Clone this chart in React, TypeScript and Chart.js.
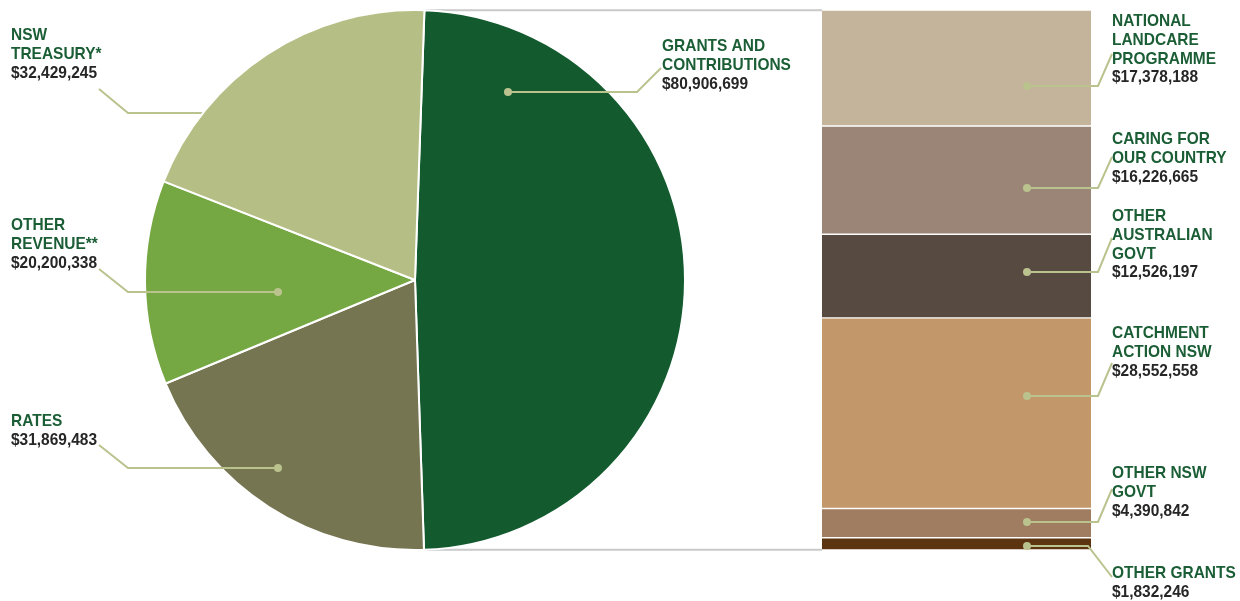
import React, { useEffect, useRef } from "react";
import { Chart, registerables } from "chart.js";

Chart.register(...registerables);

// ---- Data ----
const pieCategories = ["GRANTS AND CONTRIBUTIONS", "RATES", "OTHER REVENUE**", "NSW TREASURY*"];
const pieValues = [80906699, 31869483, 20200338, 32429245];
const pieColors = ["#135B2F", "#757551", "#75A742", "#B5BF85"];
const pieLabelLines = [["GRANTS AND", "CONTRIBUTIONS"], ["RATES"], ["OTHER", "REVENUE**"], ["NSW", "TREASURY*"]];

const barCategories = [
  "NATIONAL LANDCARE PROGRAMME",
  "CARING FOR OUR COUNTRY",
  "OTHER AUSTRALIAN GOVT",
  "CATCHMENT ACTION NSW",
  "OTHER NSW GOVT",
  "OTHER GRANTS",
];
const barValues = [17378188, 16226665, 12526197, 28552558, 4390842, 1832246];
const barColors = ["#C4B49B", "#9B8576", "#574A41", "#C2986B", "#A07D60", "#5C3410"];
const barLabelLines = [
  ["NATIONAL", "LANDCARE", "PROGRAMME"],
  ["CARING FOR", "OUR COUNTRY"],
  ["OTHER", "AUSTRALIAN", "GOVT"],
  ["CATCHMENT", "ACTION NSW"],
  ["OTHER NSW", "GOVT"],
  ["OTHER GRANTS"],
];

// ---- Annotation layout (label placement only) ----
type Lay = { tx: number; y0: number; pts: number[][]; dot: boolean; under?: boolean };
const pieLayout: Lay[] = [
  { tx: 662, y0: 51, pts: [[508, 92], [637, 92], [661, 68]], dot: true },
  { tx: 11, y0: 426, pts: [[278, 468], [128, 468], [99, 445]], dot: true },
  { tx: 11, y0: 230, pts: [[278, 292], [128, 292], [99, 269]], dot: true },
  { tx: 11, y0: 40, pts: [[260, 113], [128, 113], [99, 89]], dot: false, under: true },
];
const barLayout: Lay[] = [
  { tx: 1112, y0: 26, pts: [[1027, 86], [1098, 86], [1112, 54]], dot: true },
  { tx: 1112, y0: 144, pts: [[1027, 188], [1098, 188], [1112, 157]], dot: true },
  { tx: 1112, y0: 221, pts: [[1027, 272], [1098, 272], [1112, 238]], dot: true },
  { tx: 1112, y0: 338, pts: [[1027, 396], [1098, 396], [1112, 363]], dot: true },
  { tx: 1112, y0: 478, pts: [[1027, 522], [1098, 522], [1112, 489]], dot: true },
  { tx: 1112, y0: 578, pts: [[1027, 546], [1088, 546], [1112, 577]], dot: true },
];

const FONT = "bold 17px 'Liberation Sans', Arial, sans-serif";
const TEXT_SCALE_X = 0.91;
const LABEL_COLOR = "#1B5E36";
const VALUE_COLOR = "#262626";
const LEADER_COLOR = "#BAC28E";
const LINE_H = 18.8;

const fmt = (v: number) => "$" + v.toLocaleString("en-US");

function drawLeader(ctx: CanvasRenderingContext2D, lay: Lay) {
  ctx.save();
  ctx.strokeStyle = LEADER_COLOR;
  ctx.lineWidth = 2;
  ctx.beginPath();
  lay.pts.forEach((p, i) => (i === 0 ? ctx.moveTo(p[0], p[1]) : ctx.lineTo(p[0], p[1])));
  ctx.stroke();
  if (lay.dot) {
    ctx.fillStyle = LEADER_COLOR;
    ctx.beginPath();
    ctx.arc(lay.pts[0][0], lay.pts[0][1], 4, 0, Math.PI * 2);
    ctx.fill();
  }
  ctx.restore();
}

function drawLine(ctx: CanvasRenderingContext2D, text: string, x: number, y: number, color: string) {
  ctx.save();
  ctx.translate(x, y);
  ctx.scale(TEXT_SCALE_X, 1);
  ctx.font = FONT;
  ctx.textAlign = "left";
  ctx.textBaseline = "alphabetic";
  ctx.fillStyle = color;
  ctx.fillText(text, 0, 0);
  ctx.restore();
}

function drawText(ctx: CanvasRenderingContext2D, lay: Lay, lines: string[], value: number) {
  lines.forEach((l, i) => drawLine(ctx, l, lay.tx, lay.y0 + i * LINE_H, LABEL_COLOR));
  drawLine(ctx, fmt(value), lay.tx, lay.y0 + lines.length * LINE_H, VALUE_COLOR);
}

export default function App() {
  const pieRef = useRef<HTMLCanvasElement>(null);
  const barRef = useRef<HTMLCanvasElement>(null);

  useEffect(() => {
    const barTotal = barValues.reduce((a, b) => a + b, 0);

    const barPlugin = {
      id: "barLabels",
      afterDatasetsDraw(chart: any) {
        const ctx = chart.ctx;
        barLayout.forEach((lay, i) => {
          drawLeader(ctx, lay);
          drawText(ctx, lay, barLabelLines[i], barValues[i]);
        });
      },
    };

    const barChart = new Chart(barRef.current!, {
      type: "bar",
      data: {
        labels: ["Grants"],
        datasets: barValues.map((v, i) => ({
          label: barCategories[i],
          data: [v],
          backgroundColor: barColors[i],
          borderColor: "#FFFFFF",
          borderWidth: { top: 1, bottom: 1, left: 0, right: 0 },
          borderSkipped: false,
          categoryPercentage: 1,
          barPercentage: 1,
        })),
      },
      options: {
        responsive: false,
        animation: false,
        layout: { padding: { left: 822, right: 149, top: 10, bottom: 51 } },
        plugins: { legend: { display: false }, tooltip: { enabled: false } },
        scales: {
          x: { stacked: true, display: false },
          y: { stacked: true, display: false, min: 0, max: barTotal, reverse: true },
        },
      },
      plugins: [barPlugin],
    } as any);

    const piePlugin = {
      id: "pieLabels",
      beforeDatasetsDraw(chart: any) {
        const ctx = chart.ctx;
        const arc = chart.getDatasetMeta(0).data[0];
        const barLeft = barChart.chartArea.left;
        ctx.save();
        ctx.strokeStyle = "#C9C9C9";
        ctx.lineWidth = 2;
        [arc.startAngle, arc.endAngle].forEach((a: number) => {
          const x = arc.x + arc.outerRadius * Math.cos(a);
          const y = arc.y + arc.outerRadius * Math.sin(a);
          ctx.beginPath();
          ctx.moveTo(x, y);
          ctx.lineTo(barLeft, y);
          ctx.stroke();
        });
        ctx.restore();
        pieLayout.forEach((lay) => lay.under && drawLeader(ctx, lay));
      },
      afterDatasetsDraw(chart: any) {
        const ctx = chart.ctx;
        pieLayout.forEach((lay, i) => {
          if (!lay.under) drawLeader(ctx, lay);
          drawText(ctx, lay, pieLabelLines[i], pieValues[i]);
        });
      },
    };

    const pieChart = new Chart(pieRef.current!, {
      type: "pie",
      data: {
        labels: pieCategories,
        datasets: [
          {
            data: pieValues,
            backgroundColor: pieColors,
            borderColor: "#FFFFFF",
            borderWidth: 2,
          },
        ],
      },
      options: {
        responsive: false,
        animation: false,
        rotation: 2,
        layout: { padding: { left: 144, right: 554, top: 9, bottom: 50 } },
        plugins: { legend: { display: false }, tooltip: { enabled: false } },
      },
      plugins: [piePlugin],
    } as any);

    return () => {
      pieChart.destroy();
      barChart.destroy();
    };
  }, []);

  const cs: React.CSSProperties = { position: "absolute", left: 0, top: 0, width: 1240, height: 601 };
  return (
    <div style={{ position: "fixed", left: 0, top: 0, width: 1240, height: 601, background: "#FFFFFF" }}>
      <canvas ref={pieRef} width={1240} height={601} style={cs} />
      <canvas ref={barRef} width={1240} height={601} style={cs} />
    </div>
  );
}
